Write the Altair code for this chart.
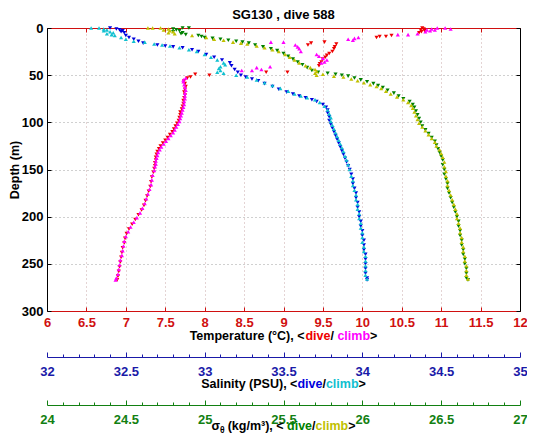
import altair as alt
import pandas as pd

# ---------------- data (depth m, value) ----------------
temp_dive = [(0,10.76),(1,10.78),(2,10.74),(3,10.79),(4,10.75),(5,10.72),(8,10.37),(9,10.30),(9,10.22),(10,10.18),
             (15,9.52),(16,9.35),(18,9.31),(17,9.67),(20,9.65),(22,9.64),(25,9.62),(27,9.58),(29,9.55),(31,9.53),
             (33,9.50),(36,9.48),(38,9.46),(40,9.45),(47,8.78),(47,9.05),(50,8.06),(49,7.88),
             (52,7.82),(53,7.78),(56,7.74),(59,7.75),(62,7.76),(65,7.75),(68,7.74),(71,7.75),(74,7.74),(77,7.73),
             (80,7.73),(83,7.72),(86,7.71),(89,7.69),(92,7.69),(95,7.68),(98,7.67),(101,7.65),(104,7.63),(107,7.61),
             (110,7.59),(113,7.56),(116,7.53),(119,7.50),(122,7.47),(125,7.44),(128,7.42),(131,7.40),(134,7.39),(137,7.38),
             (140,7.38),(143,7.37),(146,7.37),(149,7.36),(153,7.35),(158,7.33),(163,7.32),(168,7.31),(173,7.29),(178,7.27),
             (183,7.25),(188,7.23),(193,7.20),(198,7.16),(203,7.12),(208,7.08),(213,7.04),(218,7.01),(223,6.99),(228,6.98),
             (233,6.96),(238,6.95),(243,6.94),(248,6.93),(253,6.92),(258,6.91),(263,6.90),(267,6.89)]
temp_climb = [(0,10.95),(0,11.05),(1,11.12),(1,10.88),(2,10.82),(2,10.92),(3,10.86),(4,10.80),(6,10.70),(7,10.58),
              (7,10.45),(10,9.95),(11,9.90),(12,9.82),(13,9.88),(15,9.00),(15,8.84),(18,9.15),(20,9.18),(22,9.20),
              (25,9.22),(28,9.42),(30,9.45),(32,9.50),(34,9.55),(36,9.52),(37,9.48),(41,8.83),(42,8.66),(44,8.72),
              (45,8.60),(45,8.47),
              (53,7.76),(55,7.73),(57,7.73),(60,7.74),(63,7.75),(66,7.76),(69,7.75),(72,7.75),(75,7.75),(78,7.74),
              (81,7.74),(84,7.73),(87,7.72),(90,7.71),(93,7.70),(96,7.69),(99,7.68),(102,7.66),(105,7.64),(108,7.62),
              (111,7.60),(114,7.57),(117,7.54),(120,7.51),(123,7.48),(126,7.45),(129,7.43),(132,7.41),(135,7.40),(138,7.39),
              (141,7.38),(144,7.38),(147,7.37),(151,7.36),(156,7.34),(161,7.33),(166,7.32),(171,7.30),(176,7.28),(181,7.26),
              (186,7.24),(191,7.21),(196,7.18),(201,7.14),(206,7.10),(211,7.06),(216,7.03),(221,7.00),(226,6.98),(231,6.97),
              (236,6.96),(241,6.95),(246,6.93),(251,6.92),(256,6.91),(261,6.90),(265,6.88),(267,6.87)]
sal_dive = [(0,32.40),(1,32.44),(2,32.46),(3,32.48),(4,32.47),(5,32.49),(8,32.50),(10,32.52),(12,32.55),(14,32.58),
            (16,32.61),(18,32.70),(19,32.75),(20,32.80),(21,32.86),(23,32.92),(25,32.96),(28,33.01),(31,33.06),(34,33.11),
            (37,33.16),(40,33.17),(44,33.19),(47,33.21),(50,33.23),(52,33.26),(54,33.30),(56,33.34),(59,33.38),(62,33.43),
            (65,33.47),(68,33.52),(70,33.56),(72,33.60),(74,33.64),(76,33.68),(78,33.71),(81,33.75),(84,33.77),(87,33.78),
            (90,33.78),(94,33.79),(98,33.79),(102,33.80),(106,33.81),(110,33.82),(114,33.83),(118,33.84),(122,33.85),(126,33.86),
            (130,33.87),(134,33.88),(138,33.89),(142,33.90),(146,33.91),(150,33.92),(155,33.93),(160,33.94),(165,33.94),(170,33.95),
            (175,33.96),(180,33.96),(185,33.97),(190,33.97),(195,33.98),(200,33.98),(205,33.99),(210,33.99),(215,34.00),(220,34.00),
            (225,34.01),(230,34.01),(235,34.01),(240,34.02),(245,34.02),(250,34.02),(255,34.02),(260,34.02),(265,34.03),(267,34.03)]
sal_climb = [(0,32.28),(0,32.33),(1,32.36),(2,32.38),(3,32.36),(4,32.40),(5,32.42),(6,32.38),(7,32.41),(8,32.43),
             (10,32.47),(12,32.50),(14,32.55),(15,32.62),(17,32.68),(18,32.73),(19,32.78),(21,32.84),(23,32.90),(25,32.95),
             (28,33.00),(31,33.04),(34,33.08),(37,33.12),(39,33.13),(41,33.10),(43,33.09),(45,33.10),(47,33.08),(48,33.12),
             (50,33.20),(52,33.27),(55,33.33),(58,33.38),(61,33.43),(64,33.48),(67,33.53),(70,33.57),(72,33.61),(74,33.65),
             (76,33.70),(79,33.73),(83,33.76),(87,33.78),(91,33.79),(95,33.80),(99,33.80),(103,33.81),(107,33.82),(111,33.83),
             (115,33.84),(119,33.85),(123,33.86),(127,33.87),(131,33.88),(136,33.89),(140,33.90),(145,33.91),(150,33.92),(157,33.93),
             (162,33.94),(167,33.94),(172,33.95),(177,33.96),(182,33.96),(187,33.97),(192,33.97),(197,33.98),(202,33.98),(207,33.99),
             (212,33.99),(217,34.00),(222,34.00),(227,34.00),(232,34.01),(237,34.01),(242,34.02),(247,34.02),(252,34.02),(257,34.02),
             (262,34.02),(266,34.03)]
sig_dive = [(0,24.86),(0,24.90),(1,24.80),(2,24.82),(3,24.84),(4,24.80),(5,24.86),(6,24.85),(7,24.88),(8,24.96),
            (9,24.98),(10,25.00),(11,25.05),(12,25.10),(13,25.15),(14,25.20),(15,25.24),(16,25.28),(18,25.32),(20,25.37),
            (22,25.42),(24,25.46),(27,25.50),(30,25.53),(33,25.56),(36,25.59),(39,25.62),(42,25.65),(45,25.68),(47,25.72),
            (48,25.78),(49,25.83),(50,25.87),(51,25.91),(53,25.95),(55,25.99),(57,26.03),(59,26.07),(61,26.10),(63,26.13),
            (66,26.16),(69,26.20),(72,26.23),(75,26.26),(78,26.30),(81,26.32),(84,26.33),(88,26.34),(92,26.35),(96,26.36),
            (100,26.37),(104,26.38),(108,26.40),(112,26.42),(116,26.44),(120,26.46),(124,26.47),(128,26.48),(132,26.49),(136,26.50),
            (140,26.51),(145,26.51),(150,26.52),(155,26.52),(160,26.53),(165,26.54),(170,26.54),(175,26.55),(180,26.56),(185,26.57),
            (190,26.58),(195,26.59),(200,26.60),(205,26.61),(210,26.61),(215,26.62),(220,26.62),(225,26.63),(230,26.63),(235,26.64),
            (240,26.64),(245,26.65),(250,26.65),(255,26.66),(260,26.66),(265,26.66),(267,26.67)]
sig_climb = [(0,24.64),(0,24.67),(0,24.72),(1,24.77),(2,24.74),(3,24.78),(4,24.80),(5,24.77),(6,24.81),(8,24.92),
             (10,25.01),(12,25.06),(13,25.12),(15,25.18),(16,25.23),(17,25.27),(19,25.33),(21,25.38),(23,25.43),(25,25.47),
             (28,25.51),(31,25.54),(34,25.57),(37,25.60),(40,25.64),(42,25.67),(44,25.70),(46,25.71),(48,25.70),(50,25.71),
             (49,25.75),(51,25.82),(52,25.88),(54,25.93),(56,25.97),(58,26.01),(60,26.05),(62,26.09),(64,26.12),(67,26.15),
             (70,26.18),(73,26.22),(76,26.26),(79,26.29),(82,26.31),(85,26.32),(89,26.33),(93,26.34),(97,26.35),(101,26.36),
             (105,26.38),(109,26.40),(113,26.42),(117,26.44),(121,26.46),(125,26.47),(129,26.49),(133,26.50),(137,26.51),(142,26.52),
             (147,26.52),(152,26.53),(157,26.53),(162,26.54),(167,26.54),(172,26.55),(177,26.56),(182,26.57),(187,26.58),(192,26.59),
             (197,26.60),(202,26.60),(207,26.61),(212,26.62),(217,26.62),(222,26.63),(227,26.63),(232,26.64),(237,26.64),(242,26.65),
             (247,26.65),(252,26.66),(257,26.66),(262,26.66),(266,26.67)]

temp_ticks = [6, 6.5, 7, 7.5, 8, 8.5, 9, 9.5, 10, 10.5, 11, 11.5, 12]
sal_ticks = [32, 32.5, 33, 33.5, 34, 34.5, 35]
sig_ticks = [24, 24.5, 25, 25.5, 26, 26.5, 27]
sal_minor = [round(32 + 0.1 * i, 1) for i in range(31)]
sig_minor = [round(24 + 0.1 * i, 1) for i in range(31)]
depth_ticks = [0, 50, 100, 150, 200, 250, 300]

# ---------------- style ----------------
W, H = 473, 283
PAD_L, PAD_T, PAD_R, PAD_B = 39, 20, 7, 123   # svg = 519 x 426 -> fits 535x442 page with 8px margins
FONT = "Liberation Sans"
RED, MAG = "#ee0000", "#ff00ff"
BLUE, CYAN = "#0000dd", "#10c0d0"
GREEN, OLIVE = "#008000", "#c0c000"
AX_RED, AX_BLUE, AX_GREEN = "#d01010", "#1a1aa8", "#128012"
SAL_OFF, SIG_OFF = 46, 94


def df(pairs):
    return pd.DataFrame(pairs, columns=["depth", "val"])


yscale = alt.Scale(domain=[0, 300], reverse=True, nice=False, zero=False)


def xs(dom):
    return alt.Scale(domain=dom, nice=False, zero=False)


def pts(data, color, shape, dom, xaxis, yaxis, opacity=1.0):
    return alt.Chart(data).mark_point(
        shape=shape, filled=True, size=17, color=color, opacity=opacity, strokeWidth=0
    ).encode(
        x=alt.X("val:Q", scale=xs(dom), axis=xaxis),
        y=alt.Y("depth:Q", scale=yscale, axis=yaxis),
    )


lab = dict(labelFont=FONT, labelFontSize=13, labelFontWeight="bold", labelFlush=False, labelOverlap=False)
major_minor = {"condition": {"test": "abs(datum.value*2 - round(datum.value*2)) < 0.01", "value": 5}, "value": 3}

ax_temp = alt.Axis(orient="bottom", values=temp_ticks, format="~g", labelColor=AX_RED, domainColor=AX_RED,
                   ticks=False, tickSize=0, labelPadding=5, grid=True, gridColor="#c8a8a8", gridDash=[1, 3],
                   title=None, **lab)
ax_temp_in = alt.Axis(orient="top", offset=-H, values=temp_ticks, labels=False, domain=False, ticks=True,
                      tickSize=4, tickColor=AX_RED, grid=False, title=None)
ax_temp_top = alt.Axis(orient="bottom", offset=-H, values=temp_ticks, labels=False, domain=True,
                       domainColor=AX_RED, ticks=True, tickSize=4, tickColor=AX_RED, grid=False, title=None)
ax_sal = alt.Axis(orient="bottom", offset=SAL_OFF, values=sal_ticks, format="~g", labelColor=AX_BLUE,
                  domainColor=AX_BLUE, ticks=False, tickSize=0, labelPadding=8, grid=False, title=None, **lab)
ax_sal_in = alt.Axis(orient="top", offset=-(H + SAL_OFF), values=sal_minor, labels=False, domain=False,
                     ticks=True, tickSize=major_minor, tickColor=AX_BLUE, grid=False, title=None)
ax_sig = alt.Axis(orient="bottom", offset=SIG_OFF, values=sig_ticks, format="~g", labelColor=AX_GREEN,
                  domainColor=AX_GREEN, ticks=False, tickSize=0, labelPadding=8, grid=False, title=None, **lab)
ax_sig_in = alt.Axis(orient="top", offset=-(H + SIG_OFF), values=sig_minor, labels=False, domain=False,
                     ticks=True, tickSize=major_minor, tickColor=AX_GREEN, grid=False, title=None)

ax_y = alt.Axis(orient="left", values=depth_ticks, labelColor="black", domainColor="black", ticks=False,
                tickSize=0, labelPadding=4, grid=True, gridColor="#a0a0a0", gridDash=[1, 3],
                title="Depth (m)", titleFont=FONT, titleFontSize=12.5, titleFontWeight="bold",
                titleColor="black", titlePadding=0, **lab)
ax_y_in_left = alt.Axis(orient="right", offset=-W, values=depth_ticks, labels=False, domain=False,
                        ticks=True, tickSize=4, tickColor="black", grid=False, title=None)
ax_y_right = alt.Axis(orient="right", values=depth_ticks, labels=False, domain=True, domainColor="black",
                      ticks=False, grid=False, title=None)
ax_y_in_right = alt.Axis(orient="left", offset=-W, values=depth_ticks, labels=False, domain=False,
                         ticks=True, tickSize=4, tickColor="black", grid=False, title=None)

layers = [
    pts(df(temp_dive), RED, "triangle-down", [6, 12], ax_temp, ax_y),
    pts(df(temp_climb), MAG, "triangle-up", [6, 12], ax_temp_in, ax_y_in_left),
    pts(df(temp_dive), RED, "triangle-down", [6, 12], ax_temp_top, ax_y_right, opacity=0.0),
    pts(df(sal_dive), BLUE, "triangle-down", [32, 35], ax_sal, ax_y_in_right),
    pts(df(sal_climb), CYAN, "triangle-up", [32, 35], ax_sal_in, None),
    pts(df(sig_dive), GREEN, "triangle-down", [24, 27], ax_sig, None),
    pts(df(sig_climb), OLIVE, "triangle-up", [24, 27], ax_sig_in, None),
]

# ---------------- multi-coloured axis titles ----------------
AW = {' ': 278, '(': 333, ')': 333, ',': 278, '<': 584, '>': 584, '/': 278, '°': 400, 'C': 722, 'P': 667,
      'S': 667, 'T': 611, 'U': 722, 'a': 556, 'b': 611, 'c': 556, 'd': 611, 'e': 556, 'g': 611, 'i': 278,
      'k': 556, 'l': 278, 'm': 889, 'n': 611, 'p': 611, 'r': 389, 't': 333, 'u': 611, 'v': 556, 'y': 556,
      '³': 333, 'σ': 680, 'θ': 900}


def tw(s, size):
    return sum(AW.get(c, 556) for c in s) * size / 1000.0


TS = 12.5
title_rows = [
    (312, [("Temperature (°C), <", "black", TS, 0), ("dive", RED, TS, 0), ("/ ", "black", TS, 0),
           ("climb", MAG, TS, 0), (">", "black", TS, 0)]),
    (360, [("Salinity (PSU), <", "black", TS, 0), ("dive", BLUE, TS, 0), ("/", "black", TS, 0),
           ("climb", CYAN, TS, 0), (">", "black", TS, 0)]),
    (402, [("σ", "black", TS, 0), ("θ", "black", 8.5, 3), (" (kg/m³), <", "black", TS, 0),
           ("dive", GREEN, TS, 0), ("/", "black", TS, 0), ("climb", OLIVE, TS, 0), (">", "black", TS, 0)]),
]
one = pd.DataFrame({"k": [0]})
for ybase, segs in title_rows:
    total = sum(tw(s, sz) for s, _, sz, _ in segs)
    x0 = W / 2 - total / 2
    for s, col, sz, dy in segs:
        layers.append(
            alt.Chart(one).mark_text(text=s, color=col, font=FONT, fontSize=sz, fontWeight="bold",
                                     align="left", baseline="alphabetic")
            .encode(x=alt.value(x0), y=alt.value(ybase + dy))
        )
        x0 += tw(s, sz)

chart = alt.layer(*layers).resolve_scale(x="independent", y="shared").resolve_axis(
    x="independent", y="independent"
).properties(
    width=W, height=H,
    title=alt.TitleParams("SG130 , dive 588", font=FONT, fontSize=13, fontWeight="bold", color="black",
                          anchor="middle", offset=0),
    autosize=alt.AutoSizeParams(type="none"),
    padding={"left": PAD_L, "top": PAD_T, "right": PAD_R, "bottom": PAD_B},
).configure_view(stroke=None).configure(background="white")

chart.save("out.html", embed_options={"renderer": "svg", "actions": False})
